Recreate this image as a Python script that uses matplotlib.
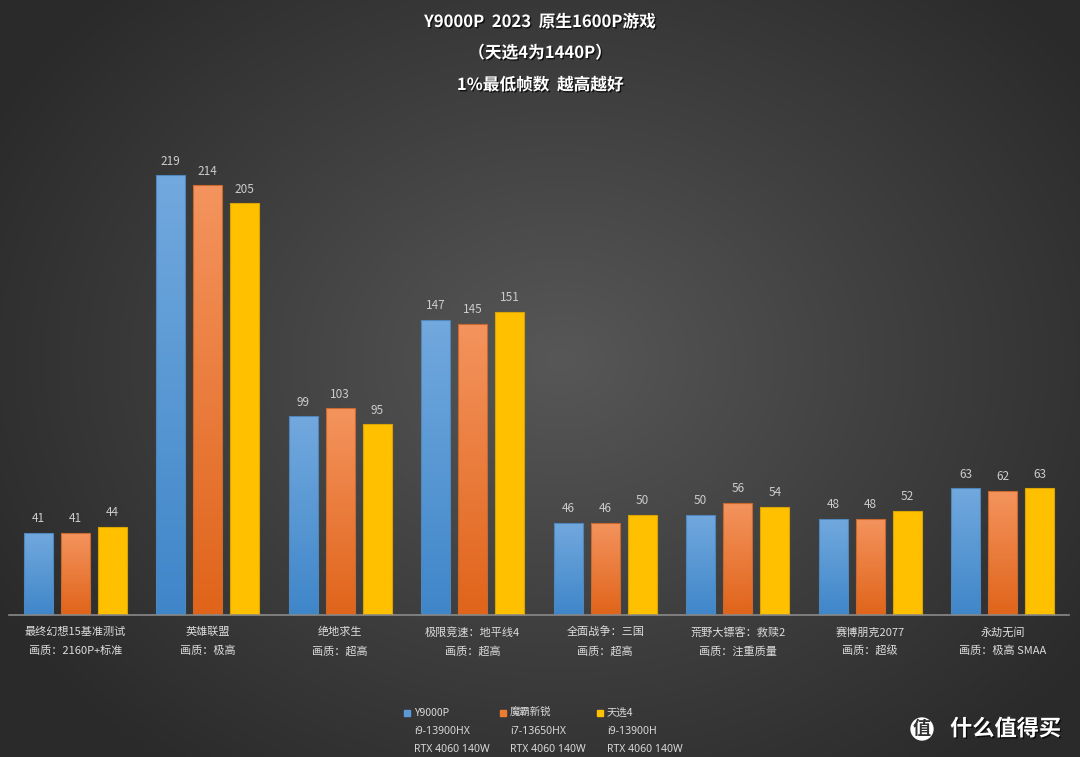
import numpy as np
import matplotlib
matplotlib.use("Agg")
import matplotlib.pyplot as plt
import matplotlib.patheffects as pe
from matplotlib.colors import LinearSegmentedColormap

plt.rcParams["font.family"] = ["Noto Sans CJK SC", "DejaVu Sans"]

# Data
games = ["最终幻想15基准测试", "英雄联盟", "绝地求生", "极限竞速：地平线4",
         "全面战争：三国", "荒野大镖客：救赎2", "赛博朋克2077", "永劫无间"]
settings = ["画质：2160P+标准", "画质：极高", "画质：超高", "画质：超高",
            "画质：超高", "画质：注重质量", "画质：超级", "画质：极高 SMAA"]
y9000p = [41, 219, 99, 147, 46, 50, 48, 63]
mobashi = [41, 214, 103, 145, 46, 56, 48, 62]
tianxuan = [44, 205, 95, 151, 50, 54, 52, 63]

series_names = ["Y9000P", "魔霸新锐", "天选4"]
series_cpu = ["i9-13900HX", "i7-13650HX", "i9-13900H"]
series_gpu = ["RTX 4060 140W", "RTX 4060 140W", "RTX 4060 140W"]

title_lines = ["Y9000P  2023  原生1600P游戏", "（天选4为1440P）", "1%最低帧数  越高越好"]

# gradient (top, bottom) per series
grads = [("#72a9de", "#3f86c9"), ("#f4945e", "#e0641a"), ("#ffc000", "#ffc000")]
edges = ["#4f86bb", "#c9692e", "#d9a300"]
legend_colors = ["#5b9bd5", "#ed7d31", "#ffc000"]

W, H = 1080, 757
fig = plt.figure(figsize=(W / 100, H / 100), dpi=100)

# radial background
bg = fig.add_axes([0, 0, 1, 1], zorder=-10)
yy, xx = np.mgrid[0:H, 0:W]
r = np.sqrt(((xx - 560) / 650.0) ** 2 + ((yy - 360) / 520.0) ** 2)
r = np.clip(r, 0, 1)
bg_cmap = LinearSegmentedColormap.from_list("bg", ["#575757", "#404040", "#2a2a2a"])
bg.imshow(r, cmap=bg_cmap, aspect="auto", extent=[0, 1, 0, 1], origin="upper")
bg.axis("off")

left, right = 9 / W, 1069 / W
bottom, top = (H - 615) / H, (H - 115) / H
ax = fig.add_axes([left, bottom, right - left, top - bottom])
ax.set_facecolor("none")
for s in ["top", "right", "left"]:
    ax.spines[s].set_visible(False)
ax.spines["bottom"].set_color("#8a8a8a")
ax.spines["bottom"].set_linewidth(1.2)
ax.set_xticks([])
ax.set_yticks([])

x = np.arange(len(games))
bw = 29 / 132.5
step = 37 / 132.5
data = [y9000p, mobashi, tianxuan]
for i, vals in enumerate(data):
    pos = x + (i - 1) * step
    cmap = LinearSegmentedColormap.from_list("g%d" % i, [grads[i][1], grads[i][0]])
    bars = ax.bar(pos, vals, width=bw, color="none", edgecolor=edges[i], linewidth=0.8, zorder=3)
    for b, v in zip(bars, vals):
        bx = b.get_x()
        im = ax.imshow(np.linspace(0, 1, 256).reshape(-1, 1), cmap=cmap, origin="lower",
                       extent=[bx, bx + b.get_width(), 0, v], aspect="auto", zorder=2)
        im.set_clip_path(b)
        ax.annotate(str(v), (bx + b.get_width() / 2, v), xytext=(0, 10),
                    textcoords="offset points", ha="center", va="center",
                    fontsize=8.5, color="#cccccc")

ax.set_xlim(-0.5, len(games) - 0.5)
ax.set_ylim(0, 249)

tr = ax.get_xaxis_transform()
for i in range(len(games)):
    ax.text(x[i], -17 / 500, games[i], transform=tr, ha="center", va="center",
            fontsize=8, color="#dcdcdc")
    ax.text(x[i], -36 / 500, settings[i], transform=tr, ha="center", va="center",
            fontsize=8, color="#dcdcdc")

# titles
shadow = [pe.withSimplePatchShadow(offset=(1, -1), shadow_rgbFace="black", alpha=0.7)]
for t, ypx in zip(title_lines, [22, 53, 85]):
    fig.text(0.5, 1 - ypx / H, t, ha="center", va="center", fontsize=12,
             fontweight="bold", color="white", path_effects=shadow)

# legend
leg_x = [404, 500, 597]
latin = ["Noto Sans", "DejaVu Sans"]
for i in range(3):
    fig.patches.append(plt.Rectangle((leg_x[i] / W, 1 - 716 / H), 6 / W, 6 / H,
                                     transform=fig.transFigure, color=legend_colors[i]))
    fig.text((leg_x[i] + 10) / W, 1 - 713 / H, series_names[i], ha="left", va="center",
             fontsize=7.5, color="#d9d9d9")
    fig.text((leg_x[i] + 10) / W, 1 - 732 / H, series_cpu[i], ha="left", va="center",
             fontsize=7.5, color="#d9d9d9", family=latin)
    fig.text((leg_x[i] + 10) / W, 1 - 750 / H, series_gpu[i], ha="left", va="center",
             fontsize=7.5, color="#d9d9d9", family=latin)

# watermark
fig.text(922 / W, 1 - 729 / H, "值", ha="center", va="center", fontsize=13,
         fontweight="bold", color="#333333",
         bbox=dict(boxstyle="circle,pad=0.12", fc="white", ec="none"))
fig.text(950 / W, 1 - 729 / H, "什么值得买", ha="left", va="center", fontsize=16,
         fontweight="bold", color="white", path_effects=shadow)

fig.savefig("out.png", dpi=100)
